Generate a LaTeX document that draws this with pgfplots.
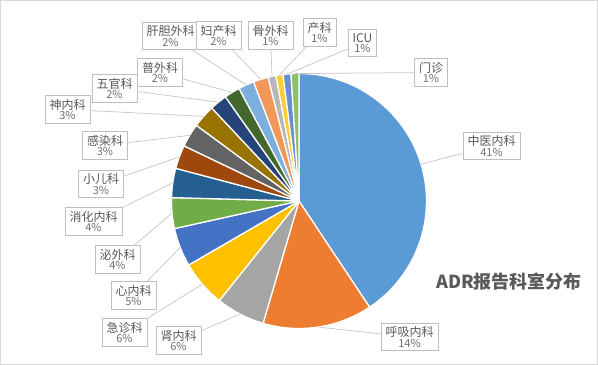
\documentclass[border=0pt]{standalone}
\usepackage{pgfplots}
\pgfplotsset{compat=1.18}
\usepackage{pgfplotstable}
\usepackage{fontspec}
\setmainfont{Noto Sans CJK SC}

\definecolor{c1}{HTML}{5B9BD5}
\definecolor{c2}{HTML}{ED7D31}
\definecolor{c3}{HTML}{A5A5A5}
\definecolor{c4}{HTML}{FFC000}
\definecolor{c5}{HTML}{4472C4}
\definecolor{c6}{HTML}{70AD47}
\definecolor{c7}{HTML}{255E91}
\definecolor{c8}{HTML}{9E480E}
\definecolor{c9}{HTML}{636363}
\definecolor{c10}{HTML}{997300}
\definecolor{c11}{HTML}{264478}
\definecolor{c12}{HTML}{43682B}
\definecolor{c13}{HTML}{7CAFDD}
\definecolor{c14}{HTML}{F1975A}
\definecolor{c15}{HTML}{B7B7B7}
\definecolor{c16}{HTML}{FFCD33}
\definecolor{c17}{HTML}{698ED0}
\definecolor{c18}{HTML}{8CC168}
\definecolor{txtc}{HTML}{595959}
\definecolor{pctc}{HTML}{707070}
\definecolor{boxc}{HTML}{BFBFBF}
\definecolor{leadc}{HTML}{C8C8C8}
\definecolor{framec}{HTML}{D9D9D9}

\pgfplotstableread{
name value lx ly
中医内科 40.7 491.5 219
呼吸内科 13.9 409.5 28
肾内科 6.2 178.5 24.5
急诊科 5.9 124.5 32.5
心内科 4.9 133.5 69.5
泌外科 3.9 117.5 105.5
消化内科 3.7 93.5 143.5
小儿科 3.0 101 181
感染科 3.0 105 219.5
神内科 2.9 67.5 255.5
五官科 2.2 114.5 276.5
普外科 2.0 160 292.5
肝胆外科 2.0 170.5 329
妇产科 1.9 218.5 329.5
骨外科 1.0 270.5 329.5
产科 0.9 319.5 332.5
ICU 1.0 362.5 322
门诊 1.0 431 292.5
}\data

\newcommand\namefont{\fontsize{12bp}{14bp}\selectfont\color{txtc}}
\newcommand\pctfont{\fontsize{11bp}{14bp}\selectfont\color{pctc}}
\tikzset{
  lbl/.style={draw=boxc, fill=white, align=center, inner xsep=4.5bp, inner ysep=3.5bp, line width=0.75bp},
  lead/.style={draw=leadc, line width=0.75bp}}

\begin{document}
\begin{tikzpicture}
\pgfplotstablegetrowsof{\data}
\pgfmathtruncatemacro\N{\pgfplotsretval-1}
\def\total{0}
\pgfplotsforeachungrouped \i in {0,...,\N}{%
  \pgfplotstablegetelem{\i}{value}\of\data
  \pgfmathsetmacro\total{\total+\pgfplotsretval}%
}
\begin{axis}[width=598bp,height=365bp,scale only axis,
  xmin=0,xmax=598,ymin=0,ymax=365,hide axis,clip=false]
\coordinate (BL) at (axis cs:0,0);
\coordinate (TR) at (axis cs:598,365);
\draw[framec, line width=0.75bp] (axis cs:0.5,0.5) rectangle (axis cs:597.5,364.5);
\def\cx{299}\def\cy{164}\def\R{127.5}
\def\cum{0}
\pgfplotsforeachungrouped \i in {0,...,\N}{%
  \pgfplotstablegetelem{\i}{value}\of\data \let\v\pgfplotsretval
  \pgfmathsetmacro\astart{90-360*(\cum/\total)}%
  \pgfmathsetmacro\cum{\cum+\v}%
  \pgfmathsetmacro\aend{90-360*(\cum/\total)}%
  \pgfmathtruncatemacro\k{\i+1}%
  \edef\temp{\noexpand\addplot[fill=c\k, draw=white, line width=1.3bp, line join=round, domain=\aend:\astart, samples=60, variable=\noexpand\t] ({\cx+\R*cos(\noexpand\t)},{\cy+\R*sin(\noexpand\t)}) -- (axis cs:\cx,\cy) -- cycle;}%
  \temp
}
\def\cum{0}
\pgfplotsforeachungrouped \i in {0,...,\N}{%
  \pgfplotstablegetelem{\i}{value}\of\data \let\v\pgfplotsretval
  \pgfplotstablegetelem{\i}{name}\of\data \let\nm\pgfplotsretval
  \pgfplotstablegetelem{\i}{lx}\of\data \let\lx\pgfplotsretval
  \pgfplotstablegetelem{\i}{ly}\of\data \let\ly\pgfplotsretval
  \pgfmathsetmacro\astart{90-360*(\cum/\total)}%
  \pgfmathsetmacro\cum{\cum+\v}%
  \pgfmathsetmacro\aend{90-360*(\cum/\total)}%
  \pgfmathsetmacro\amid{(\astart+\aend)/2}%
  \pgfmathsetmacro\px{\cx+\R*cos(\amid)}%
  \pgfmathsetmacro\py{\cy+\R*sin(\amid)}%
  \pgfmathtruncatemacro\pct{round(100*(\v/\total))}%
  \pgfmathtruncatemacro\k{\i+1}%
  \edef\temp{\noexpand\node[lbl] (L\k) at (axis cs:\lx,\ly) {\noexpand\namefont \nm\noexpand\\[-1.5bp]\noexpand\pctfont \pct\noexpand\%};
    \noexpand\draw[lead] (axis cs:\px,\py) -- (L\k);}%
  \temp
}
\node[font=\fontsize{18bp}{20bp}\selectfont\bfseries, text=txtc] at (axis cs:509,83) {ADR报告科室分布};
\end{axis}
\pgfresetboundingbox
\path (BL) rectangle (TR);
\end{tikzpicture}
\end{document}
